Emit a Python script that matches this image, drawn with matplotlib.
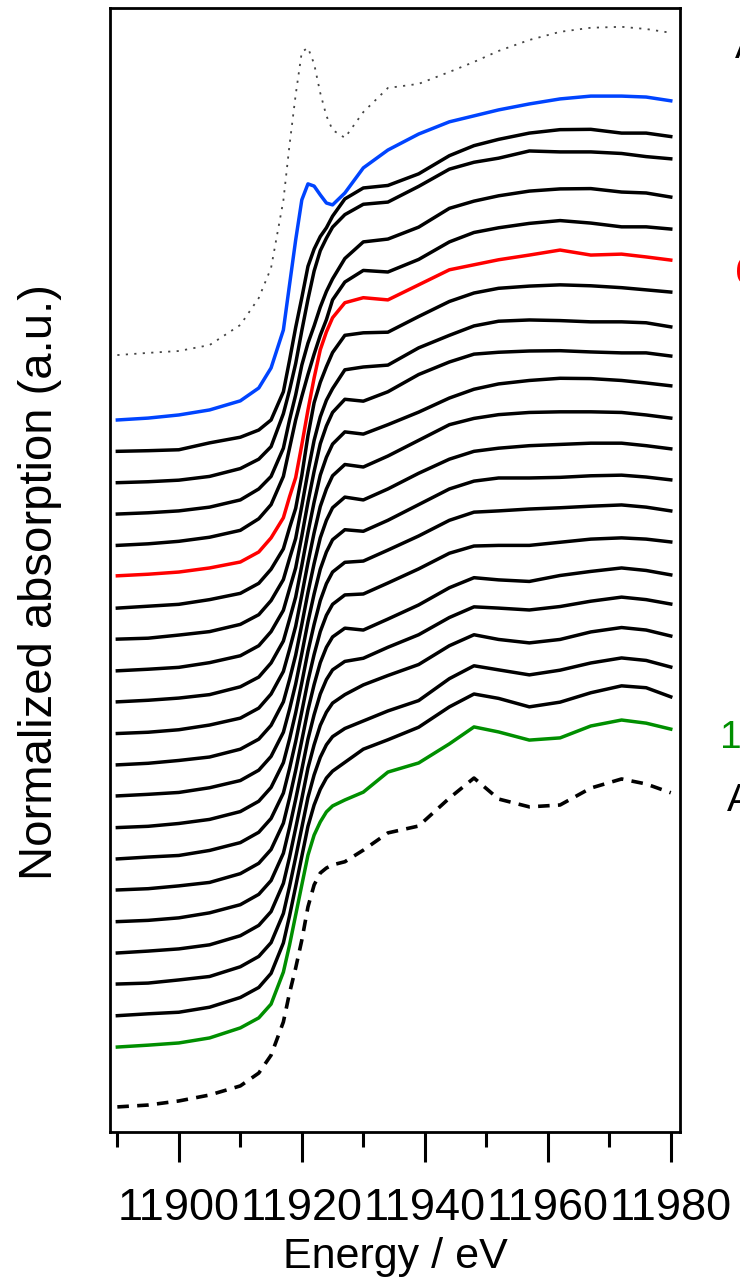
"""
Au L3-edge XANES – stacked time series with Au(III) and Au foil references.
"""

import matplotlib
matplotlib.use("Agg")
import matplotlib.pyplot as plt
from matplotlib.ticker import MultipleLocator

plt.rcParams["font.family"] = ["Liberation Sans", "DejaVu Sans"]

# ── Data ─────────────────────────────────────────────────────────
energy = [11890, 11895, 11900, 11905, 11910, 11913, 11915, 11917, 11918,
          11919, 11920, 11921, 11922, 11923, 11924, 11925, 11927, 11930,
          11934, 11939, 11944, 11948, 11952, 11957, 11962, 11967, 11972,
          11976, 11980]

# references (normalized)
ref_au3 = [0.007, 0.014, 0.020, 0.039, 0.103, 0.189, 0.285, 0.500, 0.677,
           0.837, 0.974, 0.987, 0.936, 0.843, 0.770, 0.725, 0.700, 0.782,
           0.859, 0.872, 0.910, 0.942, 0.977, 1.012, 1.038, 1.051, 1.054,
           1.047, 1.035]
ref_foil = [0.009, 0.015, 0.028, 0.047, 0.076, 0.117, 0.174, 0.280, 0.372,
            0.452, 0.541, 0.647, 0.717, 0.755, 0.771, 0.781, 0.791, 0.828,
            0.883, 0.905, 0.994, 1.058, 0.991, 0.966, 0.972, 1.026, 1.055,
            1.039, 1.011]

# time series, first (top) to last (bottom)
mu_00 = [0.000, 0.006, 0.016, 0.032, 0.061, 0.102, 0.166, 0.287, 0.431,
         0.574, 0.702, 0.753, 0.746, 0.718, 0.692, 0.686, 0.724, 0.804,
         0.861, 0.912, 0.951, 0.970, 0.989, 1.008, 1.024, 1.033, 1.033,
         1.030, 1.018]
mu_01 = [0.000, 0.002, 0.005, 0.027, 0.045, 0.068, 0.100, 0.190, 0.290,
         0.395, 0.490, 0.590, 0.645, 0.685, 0.713, 0.750, 0.805, 0.840,
         0.848, 0.885, 0.943, 0.975, 0.995, 1.015, 1.026, 1.027, 1.015,
         1.015, 1.004]
mu_02 = [0.000, 0.003, 0.008, 0.020, 0.045, 0.075, 0.115, 0.220, 0.295,
         0.380, 0.485, 0.585, 0.675, 0.740, 0.780, 0.815, 0.855, 0.888,
         0.895, 0.945, 1.000, 1.022, 1.035, 1.058, 1.055, 1.055, 1.050,
         1.040, 1.033]
mu_03 = [0.000, 0.004, 0.010, 0.022, 0.045, 0.080, 0.120, 0.210, 0.300,
         0.380, 0.475, 0.545, 0.600, 0.660, 0.710, 0.750, 0.815, 0.868,
         0.877, 0.915, 0.975, 0.998, 1.015, 1.030, 1.037, 1.038, 1.027,
         1.024, 1.011]
mu_04 = [0.000, 0.005, 0.013, 0.026, 0.048, 0.085, 0.130, 0.220, 0.310,
         0.400, 0.475, 0.545, 0.610, 0.670, 0.720, 0.783, 0.840, 0.877,
         0.872, 0.912, 0.968, 0.998, 1.013, 1.027, 1.036, 1.028, 1.016,
         1.016, 1.009]
mu_05 = [0.003, 0.008, 0.015, 0.028, 0.047, 0.079, 0.124, 0.188, 0.255,
         0.316, 0.421, 0.532, 0.634, 0.724, 0.781, 0.826, 0.874, 0.890,
         0.883, 0.931, 0.979, 0.995, 1.011, 1.026, 1.042, 1.026, 1.029,
         1.020, 1.010]
mu_06 = [0.000, 0.006, 0.012, 0.027, 0.047, 0.079, 0.124, 0.189, 0.256,
         0.318, 0.423, 0.550, 0.655, 0.720, 0.770, 0.815, 0.870, 0.878,
         0.880, 0.930, 0.978, 1.005, 1.020, 1.027, 1.031, 1.028, 1.022,
         1.015, 1.008]
mu_07 = [0.001, 0.004, 0.014, 0.025, 0.048, 0.079, 0.124, 0.191, 0.258,
         0.322, 0.426, 0.535, 0.635, 0.710, 0.763, 0.800, 0.860, 0.869,
         0.875, 0.930, 0.970, 1.000, 1.015, 1.019, 1.017, 1.013, 1.013,
         1.010, 0.997]
mu_08 = [0.000, 0.005, 0.011, 0.026, 0.048, 0.080, 0.125, 0.193, 0.261,
         0.328, 0.430, 0.538, 0.636, 0.724, 0.781, 0.824, 0.866, 0.860,
         0.890, 0.945, 0.985, 1.010, 1.016, 1.020, 1.021, 1.017, 1.014,
         1.014, 1.004]
mu_09 = [0.001, 0.006, 0.013, 0.024, 0.049, 0.080, 0.125, 0.195, 0.264,
         0.335, 0.436, 0.541, 0.638, 0.724, 0.781, 0.823, 0.862, 0.855,
         0.885, 0.925, 0.970, 0.998, 1.015, 1.026, 1.033, 1.032, 1.026,
         1.018, 1.009]
mu_10 = [0.000, 0.004, 0.012, 0.027, 0.049, 0.081, 0.126, 0.198, 0.268,
         0.342, 0.442, 0.545, 0.640, 0.724, 0.780, 0.822, 0.858, 0.850,
         0.885, 0.935, 0.985, 1.005, 1.017, 1.024, 1.026, 1.026, 1.024,
         1.016, 1.006]
mu_11 = [0.000, 0.005, 0.014, 0.025, 0.050, 0.082, 0.126, 0.201, 0.272,
         0.350, 0.448, 0.550, 0.642, 0.724, 0.780, 0.820, 0.854, 0.845,
         0.880, 0.930, 0.975, 1.000, 1.010, 1.018, 1.022, 1.026, 1.026,
         1.018, 1.008]
mu_12 = [0.001, 0.006, 0.012, 0.027, 0.050, 0.083, 0.127, 0.204, 0.277,
         0.358, 0.455, 0.556, 0.645, 0.724, 0.779, 0.818, 0.850, 0.845,
         0.880, 0.930, 0.980, 1.005, 1.015, 1.015, 1.017, 1.022, 1.024,
         1.018, 1.009]
mu_13 = [0.000, 0.004, 0.013, 0.026, 0.051, 0.084, 0.128, 0.207, 0.282,
         0.366, 0.462, 0.562, 0.648, 0.724, 0.778, 0.815, 0.846, 0.850,
         0.885, 0.930, 0.980, 1.006, 1.010, 1.016, 1.020, 1.025, 1.029,
         1.022, 1.010]
mu_14 = [0.000, 0.006, 0.011, 0.027, 0.052, 0.085, 0.129, 0.210, 0.288,
         0.374, 0.470, 0.568, 0.652, 0.725, 0.777, 0.812, 0.842, 0.845,
         0.880, 0.925, 0.975, 0.998, 1.000, 1.000, 1.010, 1.020, 1.024,
         1.020, 1.011]
mu_15 = [0.001, 0.005, 0.014, 0.025, 0.053, 0.086, 0.130, 0.214, 0.294,
         0.382, 0.478, 0.575, 0.656, 0.726, 0.775, 0.808, 0.836, 0.830,
         0.865, 0.910, 0.965, 0.997, 0.990, 0.985, 1.004, 1.017, 1.028,
         1.020, 1.006]
mu_16 = [0.000, 0.004, 0.012, 0.028, 0.054, 0.087, 0.131, 0.218, 0.300,
         0.390, 0.485, 0.582, 0.660, 0.726, 0.772, 0.803, 0.830, 0.840,
         0.875, 0.915, 0.970, 1.004, 1.000, 0.994, 1.005, 1.022, 1.035,
         1.027, 1.013]
mu_17 = [0.000, 0.006, 0.013, 0.026, 0.055, 0.088, 0.132, 0.222, 0.305,
         0.398, 0.492, 0.590, 0.664, 0.726, 0.768, 0.797, 0.824, 0.855,
         0.885, 0.920, 0.980, 1.015, 1.000, 0.989, 1.000, 1.024, 1.038,
         1.030, 1.011]
mu_18 = [0.001, 0.004, 0.014, 0.025, 0.056, 0.089, 0.133, 0.226, 0.312,
         0.405, 0.500, 0.596, 0.668, 0.724, 0.764, 0.790, 0.816, 0.840,
         0.872, 0.905, 0.975, 1.016, 1.003, 0.987, 1.002, 1.025, 1.041,
         1.033, 1.012]
mu_19 = [0.000, 0.006, 0.011, 0.027, 0.058, 0.090, 0.135, 0.232, 0.318,
         0.412, 0.508, 0.604, 0.672, 0.722, 0.758, 0.780, 0.808, 0.850,
         0.880, 0.920, 0.985, 1.026, 1.012, 0.985, 1.000, 1.030, 1.052,
         1.046, 1.017]
mu_20 = [0.000, 0.006, 0.013, 0.029, 0.061, 0.093, 0.137, 0.239, 0.325,
         0.421, 0.517, 0.612, 0.676, 0.718, 0.750, 0.769, 0.788, 0.813,
         0.877, 0.906, 0.967, 1.021, 1.005, 0.979, 0.986, 1.024, 1.043,
         1.033, 1.014]

series = [mu_00, mu_01, mu_02, mu_03, mu_04, mu_05, mu_06, mu_07, mu_08,
          mu_09, mu_10, mu_11, mu_12, mu_13, mu_14, mu_15, mu_16, mu_17,
          mu_18, mu_19, mu_20]

STEP = 0.1          # vertical shift between consecutive spectra
OFF_AU3 = 2.2
OFF_FOIL = -0.2

highlight = {0: "#0044ff", 5: "#ff0000", 20: "#008f00"}

labels = [("Au(III)", 3.155, 1.0965, "black"),
          ("6 min", 2.434, 1.0965, "#ff0000"),
          ("18 min", 0.954, 1.0710, "#008f00"),
          ("Au foil", 0.753, 1.0825, "black")]

# ── Plot ─────────────────────────────────────────────────────────
fig = plt.figure(figsize=(7.4, 12.86), dpi=100)
ax = fig.add_axes([0.1486, 0.11975, 0.7703, 0.87403])

ax.plot(energy, [v + OFF_AU3 for v in ref_au3], color="#444444",
        lw=1.3, ls=(0, (1.2, 3.5)))

n = len(series)
for i, mu in enumerate(series):
    shift = (n - 1 - i) * STEP
    ax.plot(energy, [v + shift for v in mu],
            color=highlight.get(i, "black"), lw=2.5,
            solid_joinstyle="round", zorder=3 if i in highlight else 2)

ax.plot(energy, [v + OFF_FOIL for v in ref_foil], color="black",
        lw=2.6, ls=(0, (3.2, 2.3)))

for txt, y, x, c in labels:
    ax.text(x, y, txt, transform=ax.get_yaxis_transform(), color=c,
            fontsize=28, ha="left", va="baseline", clip_on=False)

ax.set_xlim(11888.8, 11981.5)
ax.set_ylim(-0.271, 3.314)

ax.xaxis.set_major_locator(MultipleLocator(20))
ax.xaxis.set_minor_locator(MultipleLocator(10))
ax.tick_params(axis="x", which="major", direction="out", length=21.6,
               width=2.2, pad=19, labelsize=32.5)
ax.tick_params(axis="x", which="minor", direction="out", length=10.8,
               width=2.2)
ax.tick_params(axis="y", left=False, labelleft=False)
ax.ticklabel_format(axis="x", useOffset=False)
for s in ax.spines.values():
    s.set_linewidth(2.0)

ax.set_xlabel("Energy / eV", fontsize=31)
ax.xaxis.set_label_coords(0.5, -0.111)
ax.xaxis.label.set_va("center")
ax.set_ylabel("Normalized absorption (a.u.)", fontsize=34)
ax.yaxis.set_label_coords(-0.123, 0.489)
ax.yaxis.label.set_va("center")

fig.savefig("out.png", dpi=100, facecolor="white")
plt.close(fig)
